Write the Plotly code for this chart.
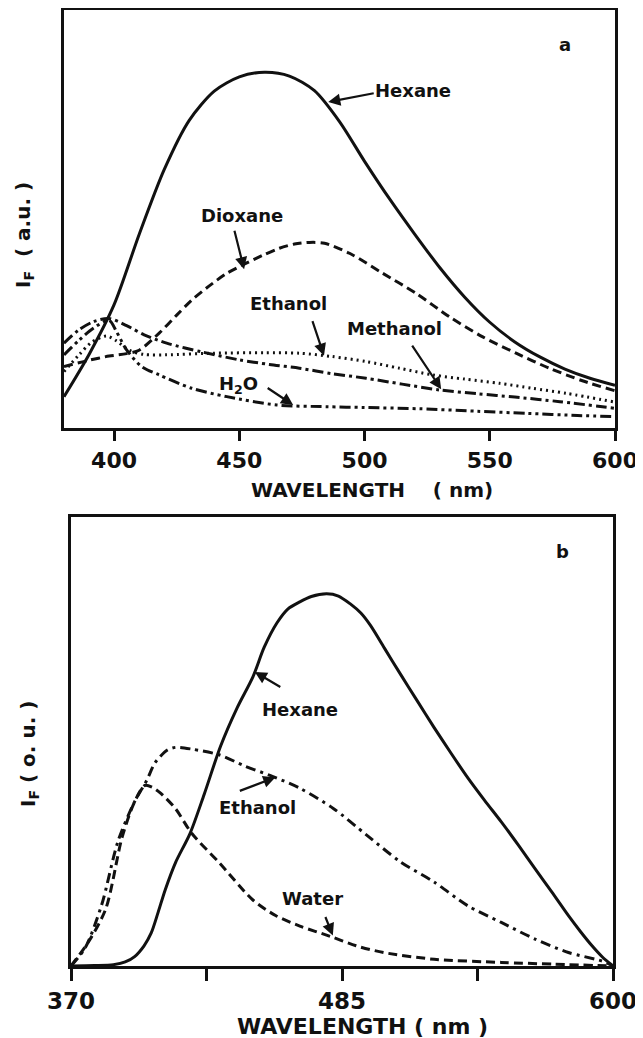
import plotly.graph_objects as go

# page body has an 8px margin: size the figure so it fits the 643x1038 window
OFF = 8
W, H = 643 - OFF, 1038 - OFF

# ---------------- Panel a data ----------------
hexane_a_x = [380, 390, 400, 410, 420, 430, 440, 450, 460, 470, 480, 490, 500, 510, 520, 530, 540, 550, 560, 570, 580, 590, 600]
hexane_a_y = [7.5, 17.6, 29.5, 46.3, 61.8, 73.6, 80.6, 84.0, 85.1, 84.2, 80.7, 73.3, 63.8, 54.8, 46.4, 38.4, 31.3, 25.3, 20.6, 17.0, 14.1, 11.9, 10.2]

dioxane_a_x = [380, 390, 398, 405, 410, 418, 425, 431, 438, 445, 453, 460, 466, 472, 478, 484, 494, 507.3, 520.6, 533.9, 547.2, 560.5, 573.8, 587, 600]
dioxane_a_y = [14.7, 16.2, 17.2, 17.8, 18.6, 22.7, 27.0, 30.6, 34.0, 37.0, 39.5, 41.5, 43.0, 44.0, 44.4, 44.2, 41.8, 37.0, 32.2, 26.6, 21.8, 17.9, 14.3, 11.3, 8.9]

ethanol_a_x = [380, 386, 391, 397, 401, 406, 412, 421, 440, 460, 474, 487, 500.6, 514, 527.2, 540, 553.9, 567, 580.5, 600]
ethanol_a_y = [13.5, 17.5, 20.5, 22.0, 20.8, 18.6, 17.6, 17.5, 17.9, 18.0, 17.9, 17.1, 15.9, 14.3, 12.7, 11.7, 10.7, 9.5, 8.3, 6.2]

methanol_a_x = [380, 386, 392, 398, 405, 412, 421, 435, 450, 462, 474, 487, 500.6, 515, 529.9, 545, 560, 578, 600]
methanol_a_y = [20.3, 23.5, 25.5, 26.2, 24.5, 22.3, 20.3, 18.2, 16.3, 15.2, 14.3, 13.0, 11.9, 10.5, 9.1, 8.2, 7.4, 6.3, 4.7]

water_a_x = [380, 386, 392, 398, 401, 405, 411, 418, 431, 445, 465, 485, 500, 522, 545, 565, 585, 600]
water_a_y = [17.5, 21.0, 24.0, 25.8, 23.0, 18.7, 14.7, 12.7, 9.5, 7.5, 5.5, 5.1, 4.9, 4.6, 4.0, 3.5, 3.0, 2.7]

ticks_a = [400, 450, 500, 550, 600]
ticklabels_a = ["400", "450", "500", "550", "600"]

# ---------------- Panel b data ----------------
hexane_b_x = [370, 380, 388, 393, 397, 401, 404, 407, 410, 414.4, 420.5, 426.5, 433.5, 440.5, 447.2, 452, 457.5, 462, 467.1, 472, 478.5, 483.5, 488.4, 493, 497, 503, 509.8, 517, 524.1, 531, 538.4, 545.5, 552.6, 560, 566.9, 574, 581.1, 586, 591.1, 595.5, 600]
hexane_b_y = [0, 0.1, 0.3, 0.9, 2.1, 4.5, 7.3, 12.0, 17.0, 23.1, 29.5, 38.2, 49.0, 57.5, 64.4, 71.0, 76.5, 79.5, 81.1, 82.3, 82.9, 82.4, 80.7, 78.6, 75.9, 70.8, 65.0, 59.0, 53.1, 47.6, 41.9, 36.9, 32.1, 26.8, 21.7, 16.5, 11.2, 7.8, 4.5, 2.0, 0]

ethanol_b_x = [370, 376.1, 383, 390, 397, 402.2, 405.7, 410.9, 414.4, 421.3, 433.1, 443.9, 455.7, 467.1, 481.3, 495.6, 509.8, 524.1, 538.4, 552.6, 566.9, 581.1, 595.4, 600]
ethanol_b_y = [0, 4.1, 13.6, 27.9, 36.6, 41.4, 45.3, 48.1, 48.7, 48.3, 47.0, 44.5, 42.2, 39.6, 35.1, 29.1, 23.2, 18.7, 13.4, 9.7, 6.0, 3.0, 1.1, 0]

water_b_x = [370, 377.8, 384.8, 391.7, 397, 401.3, 404.5, 408, 414.4, 421.3, 433.1, 447.2, 457, 467.1, 480, 491, 502.7, 524.1, 552.6, 575, 600]
water_b_y = [0, 5.7, 12.8, 28.7, 36.6, 40.2, 39.8, 38.5, 35.0, 29.5, 22.9, 14.7, 11.2, 8.9, 6.6, 4.5, 3.0, 1.5, 0.8, 0.4, 0]

ticks_b = [370, 427.5, 485, 542.5, 600]
ticklabels_b = ["370", "", "485", "", "600"]

FONT = "DejaVu Sans"
BLACK = "#111111"


def P(px, py):
    """window pixel -> paper fraction"""
    return (px - OFF) / W, 1 - (py - OFF) / H


def dom_x(a, b):
    return [(a - OFF) / W, (b - OFF) / W]


def dom_y(top, bottom):
    return [1 - (bottom - OFF) / H, 1 - (top - OFF) / H]


fig = go.Figure()


def add_line(x, y, dash, xa, ya, width=3):
    fig.add_trace(go.Scatter(
        x=x, y=y, mode="lines", xaxis=xa, yaxis=ya,
        line=dict(color=BLACK, width=width, dash=dash, shape="spline", smoothing=0.8),
        showlegend=False, hoverinfo="skip"))


add_line(hexane_a_x, hexane_a_y, "solid", "x", "y")
add_line(dioxane_a_x, dioxane_a_y, "9px,5px", "x", "y")
add_line(ethanol_a_x, ethanol_a_y, "2px,4px", "x", "y")
add_line(methanol_a_x, methanol_a_y, "11px,4px,3px,4px", "x", "y")
add_line(water_a_x, water_a_y, "11px,4px,3px,4px,3px,4px", "x", "y")

add_line(hexane_b_x, hexane_b_y, "solid", "x2", "y2")
add_line(water_b_x, water_b_y, "9px,5px", "x2", "y2")
add_line(ethanol_b_x, ethanol_b_y, "10px,5px,3px,5px", "x2", "y2")

axis_common = dict(showline=True, linecolor=BLACK, linewidth=3, mirror=True,
                   showgrid=False, zeroline=False, automargin=False)

fig.update_layout(
    template="none",
    width=W, height=H,
    margin=dict(l=0, r=0, t=0, b=0, pad=0),
    paper_bgcolor="white", plot_bgcolor="white",
    showlegend=False,
    xaxis=dict(domain=dom_x(64, 615), range=[380, 600], anchor="y",
               tickmode="array", tickvals=ticks_a, ticktext=ticklabels_a,
               ticks="outside", ticklen=10, tickwidth=2.5, tickcolor=BLACK,
               ticklabelstandoff=1,
               tickfont=dict(family=FONT, size=22, color=BLACK, weight="bold"),
               **axis_common),
    yaxis=dict(domain=dom_y(10, 428), range=[0, 100], anchor="x",
               showticklabels=False, ticks="", **axis_common),
    xaxis2=dict(domain=dom_x(71, 613), range=[370, 600], anchor="y2",
                tickmode="array", tickvals=ticks_b, ticktext=ticklabels_b,
                ticks="outside", ticklen=12, tickwidth=2.5, tickcolor=BLACK,
                ticklabelstandoff=0,
                tickfont=dict(family=FONT, size=23, color=BLACK, weight="bold"),
                **axis_common),
    yaxis2=dict(domain=dom_y(517, 966), range=[0, 100], anchor="x2",
                showticklabels=False, ticks="", **axis_common),
)

anns = []


def label(text, px, py, size=18, angle=0):
    x, y = P(px, py)
    anns.append(dict(text=text, x=x, y=y, xref="paper", yref="paper",
                     showarrow=False, xanchor="center", yanchor="middle",
                     textangle=angle,
                     font=dict(family=FONT, size=size, color=BLACK, weight="bold")))


def arrow(xd, yd, ax, ay, xr, yr):
    anns.append(dict(text="", x=xd, y=yd, xref=xr, yref=yr, ax=ax, ay=ay,
                     axref="pixel", ayref="pixel", showarrow=True,
                     arrowhead=2, arrowsize=1.1, arrowwidth=2.2, arrowcolor=BLACK))


# panel a labels
label("a", 565, 45)
label("Hexane", 413, 91)
label("Dioxane", 242, 215)
label("Ethanol", 288, 303)
label("Methanol", 394, 328)
label("H<sub>2</sub>O", 238, 385)
arrow(485.5, 78.0, 47, -9, "x", "y")
arrow(451.9, 38.0, -10, -40, "x", "y")
arrow(483.8, 17.3, -12, -36, "x", "y")
arrow(530.6, 9.3, -30, -45, "x", "y")
arrow(471.5, 5.5, -27, -18, "x", "y")

# panel b labels
label("b", 562, 551)
label("Hexane", 300, 709)
label("Ethanol", 257, 807)
label("Water", 312, 898)
arrow(448.0, 65.5, 27, 16, "x2", "y2")
arrow(456.7, 42.0, -37, 14, "x2", "y2")
arrow(481.1, 6.8, -8, -20, "x2", "y2")

# axis titles
label("WAVELENGTH&nbsp;&nbsp;&nbsp;&nbsp;( nm)", 372, 490, size=20)
label("WAVELENGTH ( nm )", 362, 1026, size=22)
label("I<sub>F</sub>&nbsp;&nbsp;( a.u. )", 24, 235, size=20, angle=-90)
label("I<sub>F</sub> ( o. u. )", 29, 754, size=20, angle=-90)

fig.update_layout(annotations=anns)

fig.write_html("out.html")
